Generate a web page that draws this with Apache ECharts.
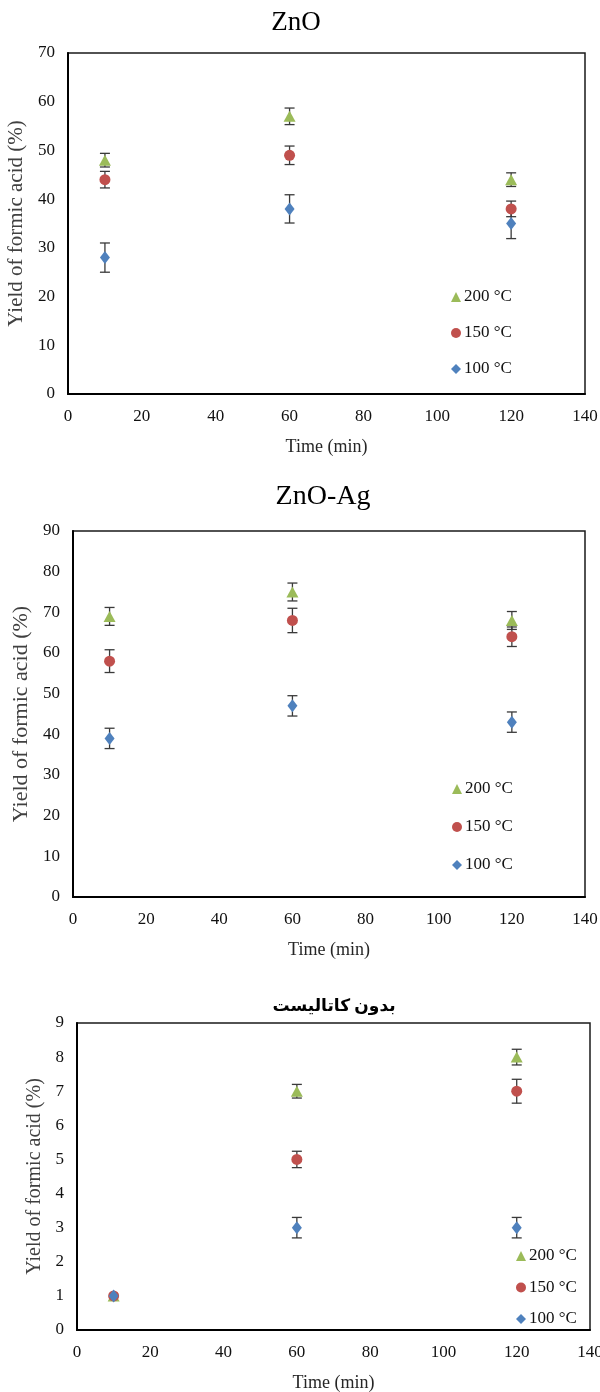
<!DOCTYPE html>
<html>
<head>
<meta charset="utf-8">
<script src="https://cdn.jsdelivr.net/npm/echarts@6/dist/echarts.min.js"></script>
<style>html,body{margin:0;padding:0;background:#fff}#c{width:600px;height:1392px}</style>
</head>
<body>
<div id="c"></div>
<script>
// ---- data ----
const times = [10, 60, 120];
const seriesNames = ['200 °C', '150 °C', '100 °C'];
const titles = ['ZnO', 'ZnO-Ag', 'بدون کاتالیست'];
const xTicks = [0, 20, 40, 60, 80, 100, 120, 140];

// ZnO
const zno200 = [48, 57, 44];
const zno200Err = [1.4, 1.7, 1.4];
const zno150 = [44, 49, 38];
const zno150Err = [1.7, 1.9, 1.6];
const zno100 = [28, 38, 35];
const zno100Err = [3.0, 2.9, 3.1];

// ZnO-Ag
const znoag200 = [69, 75, 68];
const znoag200Err = [2.2, 2.2, 2.2];
const znoag150 = [58, 68, 64];
const znoag150Err = [2.8, 3.0, 2.4];
const znoag100 = [39, 47, 43];
const znoag100Err = [2.5, 2.5, 2.5];

// no catalyst
const noCat200 = [1, 7, 8];
const noCat200Err = [0, 0.2, 0.23];
const noCat150 = [1, 5, 7];
const noCat150Err = [0, 0.24, 0.35];
const noCat100 = [1, 3, 3];
const noCat100Err = [0, 0.3, 0.3];

const yMax = [70, 90, 9];
const yInterval = [10, 10, 1];

// ---- layout / style ----
const FONT = "'Liberation Serif', 'DejaVu Serif', serif";
const colors = ['#9BBB59', '#C0504D', '#4F81BD'];
const symbols = ['triangle', 'circle', 'diamond'];
const symbolSizes = [[12, 11], 11, [10, 13]];
const grids = [
  {left: 68, width: 517, top: 53, height: 341},
  {left: 73, width: 512, top: 531, height: 366},
  {left: 77, width: 513, top: 1023, height: 307}
];
const yNameGaps = [36, 39, 29];
const yNameSizes = [21, 22, 20];
const legendPos = [
  {left: 446, top: 283, itemGap: 18},
  {left: 447, top: 775, itemGap: 20},
  {left: 511, top: 1242, itemGap: 13.5}
];
const titlePos = [[296, 23, 'normal', 27], [323, 497, 'normal', 28], [334, 1007, 'bold', 17]];

const allData = [
  [[zno200, zno200Err], [zno150, zno150Err], [zno100, zno100Err]],
  [[znoag200, znoag200Err], [znoag150, znoag150Err], [znoag100, znoag100Err]],
  [[noCat200, noCat200Err], [noCat150, noCat150Err], [noCat100, noCat100Err]]
];

function errRender(params, api) {
  const x = api.value(0), y = api.value(1), e = api.value(2);
  if (!e) return null;
  const t = api.coord([x, y + e]);
  const b = api.coord([x, y - e]);
  const hw = 5;
  const st = {stroke: '#3a3a3a', lineWidth: 1.3};
  return {
    type: 'group',
    children: [
      {type: 'line', shape: {x1: t[0], y1: t[1], x2: b[0], y2: b[1]}, style: st},
      {type: 'line', shape: {x1: t[0] - hw, y1: t[1], x2: t[0] + hw, y2: t[1]}, style: st},
      {type: 'line', shape: {x1: b[0] - hw, y1: b[1], x2: b[0] + hw, y2: b[1]}, style: st}
    ]
  };
}

const option = {
  animation: false,
  backgroundColor: '#fff',
  grid: [], xAxis: [], yAxis: [], series: [], legend: [], graphic: []
};

for (let g = 0; g < 3; g++) {
  option.grid.push(Object.assign({show: true, borderColor: '#1a1a1a', borderWidth: 1.5,
    backgroundColor: 'transparent', containLabel: false, outerBoundsMode: 'none'}, grids[g]));
  option.xAxis.push({
    type: 'value', gridIndex: g, min: 0, max: 140, interval: 20,
    name: 'Time (min)', nameLocation: 'middle', nameGap: 44,
    nameTextStyle: {fontFamily: FONT, fontSize: 18, color: '#262626'},
    axisLine: {show: true, onZero: false, lineStyle: {color: '#000', width: 2}},
    axisTick: {show: false}, splitLine: {show: false},
    axisLabel: {fontFamily: FONT, fontSize: 17, color: '#111', margin: 14}
  });
  option.yAxis.push({
    type: 'value', gridIndex: g, min: 0, max: yMax[g], interval: yInterval[g],
    name: 'Yield of formic acid (%)', nameLocation: 'middle', nameGap: yNameGaps[g], nameRotate: 90,
    nameTextStyle: {fontFamily: FONT, fontSize: yNameSizes[g], color: '#404040'},
    axisLine: {show: true, onZero: false, lineStyle: {color: '#000', width: 2}},
    axisTick: {show: false}, splitLine: {show: false},
    axisLabel: {fontFamily: FONT, fontSize: 17, color: '#111', margin: 13}
  });
  for (let s = 0; s < 3; s++) {
    const vals = allData[g][s][0], errs = allData[g][s][1];
    option.series.push({
      type: 'custom', xAxisIndex: g, yAxisIndex: g, silent: true, z: 1,
      renderItem: errRender, encode: {x: 0, y: 1},
      data: times.map((t, i) => [t, vals[i], errs[i]])
    });
  }
  for (let s = 0; s < 3; s++) {
    const vals = allData[g][s][0];
    option.series.push({
      type: 'scatter', name: seriesNames[s], xAxisIndex: g, yAxisIndex: g, z: 3,
      symbol: symbols[s], symbolSize: symbolSizes[s],
      itemStyle: {color: colors[s], opacity: 1},
      data: times.map((t, i) => [t, vals[i]])
    });
  }
  option.legend.push({
    data: seriesNames.map((n, i) => ({name: n, icon: symbols[i]})),
    orient: 'vertical', left: legendPos[g].left, top: legendPos[g].top,
    itemGap: legendPos[g].itemGap, itemWidth: 10, itemHeight: 10,
    selectedMode: false,
    textStyle: {fontFamily: FONT, fontSize: 17, color: '#111', lineHeight: 18, padding: [0, 0, 0, -2]}
  });
  const tp = titlePos[g];
  option.graphic.push({
    type: 'text', x: tp[0], y: tp[1], silent: true,
    style: {text: titles[g], textAlign: 'center', textVerticalAlign: 'middle',
      font: tp[2] + ' ' + tp[3] + "px 'Liberation Serif', 'DejaVu Sans', serif", fill: '#000'}
  });
}

const chart = echarts.init(document.getElementById('c'), null, {renderer: 'canvas'});
chart.setOption(option);
</script>
</body>
</html>
